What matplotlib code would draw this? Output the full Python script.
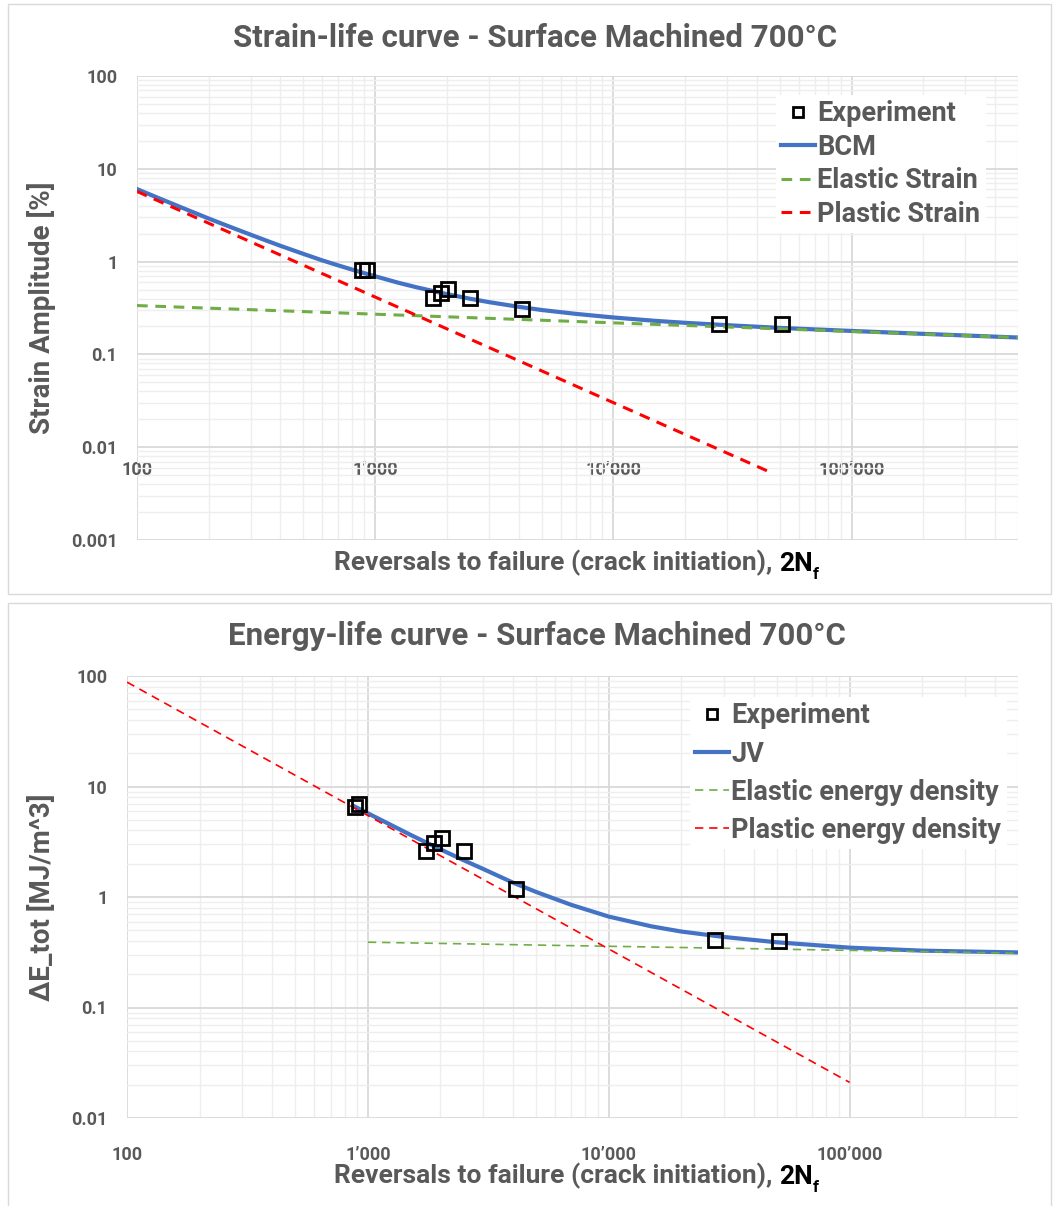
import matplotlib
matplotlib.use("Agg")
import matplotlib.pyplot as plt
from matplotlib.lines import Line2D
from matplotlib.patches import Rectangle
from matplotlib.ticker import LogLocator, NullFormatter

# ---- data ----
reversals_exp = [880, 920, 1750, 1890, 2030, 2500, 4130, 27700, 51000]
strain_exp = [0.82, 0.82, 0.41, 0.46, 0.51, 0.41, 0.31, 0.21, 0.21]
energy_exp = [6.5, 6.9, 2.6, 3.05, 3.45, 2.6, 1.17, 0.41, 0.40]

bcm_x = [100, 125, 150, 200, 250, 300, 350, 400, 500, 600, 700, 800, 900, 1000,
         1250, 1500, 2000, 2500, 3000, 4000, 5000, 7000, 10000, 15000, 20000,
         30000, 50000, 100000, 200000, 500000]
bcm_y = [6.04, 4.76, 3.93, 2.91, 2.33, 1.95, 1.68, 1.48, 1.21, 1.03, 0.91, 0.82, 0.75,
         0.695, 0.592, 0.527, 0.446, 0.398, 0.366, 0.326, 0.301, 0.273, 0.250, 0.230,
         0.219, 0.2065, 0.193, 0.179, 0.1665, 0.152]
elastic_strain_x = [100, 500000]
elastic_strain_y = [0.336, 0.152]
plastic_strain_x = [100, 45400]
plastic_strain_y = [5.7, 0.0054]

jv_x = [880, 1000, 1250, 1500, 2000, 2500, 3000, 4000, 5000, 7000, 10000, 15000,
        20000, 30000, 50000, 100000, 200000, 500000]
jv_y = [6.6, 5.72, 4.475, 3.66, 2.70, 2.15, 1.80, 1.35, 1.11, 0.848, 0.665, 0.543,
        0.487, 0.435, 0.389, 0.348, 0.327, 0.315]
elastic_energy_x = [1000, 500000]
elastic_energy_y = [0.39, 0.31]
plastic_energy_x = [100, 100000]
plastic_energy_y = [88, 0.021]

x_ticks = [100, 1000, 10000, 100000]
x_ticklabels = ["100", "1\u2019000", "10\u2019000", "100\u2019000"]
strain_ticks = [0.001, 0.01, 0.1, 1, 10, 100]
strain_ticklabels = ["0.001", "0.01", "0.1", "1", "10", "100"]
energy_ticks = [0.01, 0.1, 1, 10, 100]
energy_ticklabels = ["0.01", "0.1", "1", "10", "100"]

# ---- style ----
W, H = 1053, 1206
GREY = "#595959"
BLUE = "#4472C4"
GREEN = "#70AD47"
RED = "#FF0000"
plt.rcParams["font.family"] = ["Roboto", "DejaVu Sans"]
plt.rcParams["font.weight"] = "bold"


def fx(px):
    return px / W


def fy(py):
    return 1 - py / H


def style_axes(ax, yticks, yticklabels):
    ax.set_xscale("log")
    ax.set_yscale("log")
    for s in ax.spines.values():
        s.set_visible(False)
    ax.set_xticks(x_ticks, x_ticklabels, fontweight="bold")
    ax.set_yticks(yticks, yticklabels, fontweight="bold")
    ax.xaxis.set_minor_locator(LogLocator(base=10, subs=range(2, 10), numticks=50))
    ax.yaxis.set_minor_locator(LogLocator(base=10, subs=range(2, 10), numticks=50))
    ax.xaxis.set_minor_formatter(NullFormatter())
    ax.yaxis.set_minor_formatter(NullFormatter())
    ax.grid(True, which="minor", color="#EEEEEE", lw=1.0)
    ax.grid(True, which="major", color="#D9D9D9", lw=1.3)
    ax.set_axisbelow(True)
    ax.tick_params(which="both", length=0, labelsize=13, labelcolor=GREY)
    ax.tick_params(axis="y", pad=14)


def xlabel(fig, ax, y_px):
    t1 = fig.text(fx(779), fy(y_px), "Reversals to failure (crack initiation), ",
                  ha="right", va="center", fontsize=19, color=GREY, fontweight="bold")
    t2 = ax.annotate("2N", xy=(1, 0), xycoords=t1, ha="left", va="bottom",
                     fontsize=19, color="black", fontweight="bold", annotation_clip=False)
    ax.annotate("f", xy=(1, 0), xycoords=t2, xytext=(0, -4), textcoords="offset points",
                ha="left", va="bottom", fontsize=12, color="black", fontweight="bold",
                annotation_clip=False)


def legend(ax, handles, labels, x_px, y_px, spacing):
    leg = ax.legend(handles, labels, loc="upper left", bbox_to_anchor=(fx(x_px), fy(y_px)),
                    bbox_transform=ax.figure.transFigure, frameon=True, facecolor="white",
                    edgecolor="none", framealpha=1, fancybox=False,
                    prop={"size": 19.5, "weight": "bold"},
                    handlelength=1.23, handletextpad=0.1, labelspacing=spacing,
                    borderpad=0.2, borderaxespad=0)
    for t in leg.get_texts():
        t.set_color(GREY)
    return leg


fig = plt.figure(figsize=(W / 100, H / 100), dpi=100)

# panel borders
fig.add_artist(Rectangle((fx(8), fy(594)), fx(1051 - 8), (594 - 4) / H,
                         transform=fig.transFigure, fill=False, ec="#D9D9D9", lw=1))
fig.add_artist(Rectangle((fx(8), fy(1210)), fx(1051 - 8), (1210 - 603) / H,
                         transform=fig.transFigure, fill=False, ec="#D9D9D9", lw=1))

# ---- strain-life ----
ax1 = fig.add_axes([fx(137), fy(540), (1018 - 137) / W, (540 - 76) / H])
style_axes(ax1, strain_ticks, strain_ticklabels)
ax1.set_xlim(100, 500000)
ax1.set_ylim(0.001, 100)
ax1.spines["bottom"].set_position(("data", 0.01))
ax1.tick_params(axis="x", pad=10)

ax1.plot(bcm_x, bcm_y, color=BLUE, lw=3, zorder=3)
ax1.plot(elastic_strain_x, elastic_strain_y, color=GREEN, lw=2.2, dashes=(3.5, 2.5), zorder=3)
ax1.plot(plastic_strain_x, plastic_strain_y, color=RED, lw=2.2, dashes=(3.5, 2.5), zorder=3)
ax1.plot(reversals_exp, strain_exp, ls="none", marker="s", ms=10, mfc="none",
         mec="black", mew=2, zorder=4)

h1 = [Line2D([], [], ls="none", marker="s", ms=7, mfc="none", mec="black", mew=2),
      Line2D([], [], color=BLUE, lw=3),
      Line2D([], [], color=GREEN, lw=2.2, dashes=(3.5, 2.5)),
      Line2D([], [], color=RED, lw=2.2, dashes=(3.5, 2.5))]
legend(ax1, h1, ["Experiment", "BCM", "Elastic Strain", "Plastic Strain"], 776, 95, 0.24)

fig.text(fx(535), fy(38), "Strain-life curve - Surface Machined 700\u00b0C",
         ha="center", va="center", fontsize=22.5, color=GREY, fontweight="bold")
fig.text(fx(42), fy(308), "Strain Amplitude [%]", rotation=90,
         ha="center", va="center", fontsize=20, color=GREY, fontweight="bold")
xlabel(fig, ax1, 563)

# ---- energy-life ----
ax2 = fig.add_axes([fx(127), fy(1118), (1018 - 127) / W, (1118 - 676) / H])
style_axes(ax2, energy_ticks, energy_ticklabels)
ax2.set_xlim(100, 500000)
ax2.set_ylim(0.01, 100)
ax2.tick_params(axis="x", pad=20)

ax2.plot(jv_x, jv_y, color=BLUE, lw=3, zorder=3)
ax2.plot(elastic_energy_x, elastic_energy_y, color=GREEN, lw=1.2, dashes=(5, 3.5), zorder=3)
ax2.plot(plastic_energy_x, plastic_energy_y, color=RED, lw=1.2, dashes=(5, 3.5), zorder=3)
ax2.plot(reversals_exp, energy_exp, ls="none", marker="s", ms=10, mfc="none",
         mec="black", mew=2, zorder=4)

h2 = [Line2D([], [], ls="none", marker="s", ms=7, mfc="none", mec="black", mew=2),
      Line2D([], [], color=BLUE, lw=3),
      Line2D([], [], color=GREEN, lw=1.2, dashes=(5, 3.5)),
      Line2D([], [], color=RED, lw=1.2, dashes=(5, 3.5))]
legend(ax2, h2, ["Experiment", "JV", "Elastic energy density", "Plastic energy density"],
       690, 697, 0.41)

fig.text(fx(537), fy(636), "Energy-life curve - Surface Machined 700\u00b0C",
         ha="center", va="center", fontsize=22.5, color=GREY, fontweight="bold")
fig.text(fx(42), fy(897), "\u0394E_tot [MJ/m^3]", rotation=90,
         ha="center", va="center", fontsize=20, color=GREY, fontweight="bold")
xlabel(fig, ax2, 1176)

fig.savefig("out.png", dpi=100)
